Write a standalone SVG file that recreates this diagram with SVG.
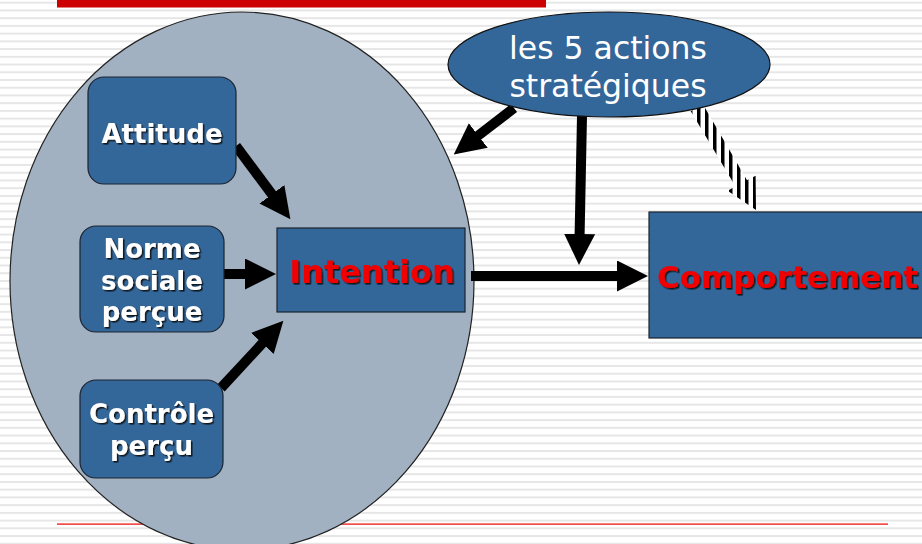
<svg xmlns="http://www.w3.org/2000/svg" width="922" height="544" viewBox="0 0 922 544">
  <defs>
    <pattern id="bgLines" width="922" height="7.73" patternUnits="userSpaceOnUse" y="1.7">
      <rect x="0" y="0" width="922" height="2" fill="#e6e6e6"/>
    </pattern>
    <pattern id="vStripes" width="8" height="8" patternUnits="userSpaceOnUse" x="1">
      <rect x="0" y="0" width="8" height="8" fill="#ffffff"/>
      <rect x="0" y="0" width="3.5" height="8" fill="#000000"/>
    </pattern>
    <marker id="head" markerUnits="userSpaceOnUse" viewBox="0 0 31 31" markerWidth="31" markerHeight="31" refX="1" refY="15.5" orient="auto">
      <path d="M0,0 L31,15.5 L0,31 Z" fill="#000"/>
    </marker>
    <filter id="shadow" x="-10%" y="-10%" width="120%" height="130%">
      <feDropShadow dx="1.5" dy="1.5" stdDeviation="0" flood-color="#111" flood-opacity="0.9"/>
    </filter>
    <style>
      .box { fill: #336699; stroke: #1c2430; stroke-width: 1.2; }
      .label { font-family: "DejaVu Sans", Verdana, sans-serif; font-weight: bold; font-size: 26px; fill: #ffffff; text-anchor: middle; filter: url(#shadow); }
      .key { font-family: "DejaVu Sans", Verdana, sans-serif; font-weight: bold; fill: #f00000; filter: url(#shadow); }
      .oval-text { font-family: "DejaVu Sans", Verdana, sans-serif; font-size: 31.5px; fill: #ffffff; text-anchor: middle; }
      .link { stroke: #000; stroke-width: 10; fill: none; marker-end: url(#head); }
    </style>
  </defs>

  <!-- slide background -->
  <rect x="0" y="0" width="922" height="544" fill="#ffffff"/>
  <rect x="0" y="0" width="922" height="544" fill="url(#bgLines)"/>
  <rect x="57" y="0" width="489" height="7.5" fill="#cc0000"/>
  <rect x="57" y="523.5" width="831" height="1.2" fill="#ee0000"/>

  <!-- intention model container -->
  <g id="model">
    <ellipse cx="242" cy="281" rx="232" ry="269" fill="#a2b1c1" stroke="#222" stroke-width="1.2"/>
  </g>

  <g id="connectors">
    <line class="link" x1="236" y1="146" x2="272.5" y2="195.1"/>
    <line class="link" x1="224" y1="274" x2="246" y2="274"/>
    <line class="link" x1="221" y1="388" x2="263" y2="342.7"/>
    <line class="link" x1="471" y1="276" x2="618" y2="276"/>
    <line class="link" x1="514" y1="108" x2="477.5" y2="136.1"/>
    <line class="link" x1="582" y1="116" x2="579.6" y2="235"/>
    <!-- striped arrow towards the behaviour box -->
    <polygon points="703.2,104.7 747,180.3 755.6,175.7 756,210 727.6,190.7 735.5,186.4 690.8,111.3" fill="url(#vStripes)"/>
  </g>

  <g id="attitude">
    <rect class="box" x="88" y="77" width="148" height="107" rx="16"/>
    <text class="label" x="162" y="143">Attitude</text>
  </g>

  <g id="norme">
    <rect class="box" x="80" y="226" width="144" height="106" rx="16"/>
    <text class="label" x="152" y="258">Norme</text>
    <text class="label" x="152" y="290">sociale</text>
    <text class="label" x="152" y="321">perçue</text>
  </g>

  <g id="controle">
    <rect class="box" x="80" y="380" width="143" height="98" rx="16"/>
    <text class="label" x="151.5" y="423">Contrôle</text>
    <text class="label" x="151.5" y="455">perçu</text>
  </g>

  <g id="intention">
    <rect class="box" x="277" y="228" width="188" height="84"/>
    <text class="key" x="372" y="283" font-size="32" text-anchor="middle">Intention</text>
  </g>

  <g id="comportement">
    <rect class="box" x="649" y="212" width="280" height="126"/>
    <text class="key" x="657" y="288" font-size="31">Comportement</text>
  </g>

  <g id="actions">
    <ellipse cx="609" cy="64.5" rx="161" ry="52.5" fill="#336699" stroke="#111" stroke-width="1.2"/>
    <text class="oval-text" x="608" y="59">les 5 actions</text>
    <text class="oval-text" x="608" y="97">stratégiques</text>
  </g>
</svg>
